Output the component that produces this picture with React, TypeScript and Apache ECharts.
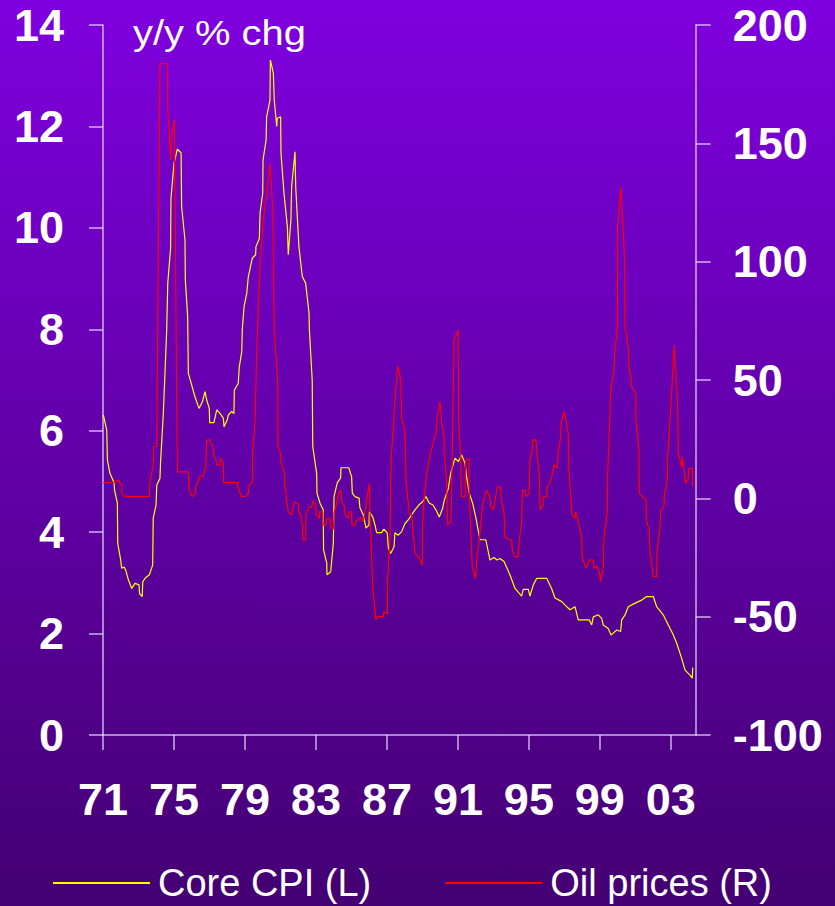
import React, { useEffect, useRef } from "react";
import * as echarts from "echarts";

// Core CPI, y/y % change (left axis): [decimal year, value]
const cpiPoints: [number, number][] = [
  [1971.02, 6.31], [1971.21, 6.01], [1971.25, 5.42], [1971.39, 5.16], [1971.62, 4.98], [1971.65, 4.83],
  [1971.81, 4.57], [1971.83, 3.78], [1972.0, 3.45], [1972.05, 3.29], [1972.2, 3.31], [1972.28, 3.25],
  [1972.43, 3.06], [1972.62, 2.89], [1972.8, 2.99], [1973.03, 2.96], [1973.06, 2.79], [1973.21, 2.73],
  [1973.24, 3.02], [1973.37, 3.09], [1973.61, 3.16], [1973.8, 3.35], [1973.83, 4.27], [1973.99, 4.54],
  [1974.03, 4.93], [1974.21, 5.06], [1974.24, 5.36], [1974.4, 6.34], [1974.59, 7.99], [1974.65, 8.91],
  [1974.81, 9.6], [1974.83, 10.58], [1975.0, 11.27], [1975.19, 11.55], [1975.4, 11.48], [1975.43, 10.42],
  [1975.62, 9.76], [1975.64, 8.97], [1975.77, 8.25], [1975.81, 7.13], [1976.0, 6.9], [1976.18, 6.67],
  [1976.41, 6.44], [1976.6, 6.57], [1976.75, 6.77], [1976.84, 6.61], [1976.99, 6.44], [1977.01, 6.16],
  [1977.25, 6.16], [1977.41, 6.41], [1977.59, 6.34], [1977.78, 6.25], [1977.82, 6.08], [1978.0, 6.21],
  [1978.06, 6.31], [1978.25, 6.38], [1978.38, 6.34], [1978.4, 6.8], [1978.62, 6.93], [1978.68, 7.26],
  [1978.82, 7.56], [1978.85, 8.0], [1978.95, 8.45], [1979.1, 8.71], [1979.19, 9.04], [1979.41, 9.4],
  [1979.6, 9.47], [1979.62, 9.63], [1979.81, 9.79], [1979.85, 10.29], [1980.0, 10.68], [1980.02, 11.34],
  [1980.19, 11.73], [1980.22, 12.19], [1980.41, 12.52], [1980.43, 13.31], [1980.6, 13.05], [1980.65, 12.52],
  [1980.79, 12.0], [1980.82, 12.16], [1981.01, 12.19], [1981.03, 11.47], [1981.2, 10.68], [1981.39, 10.02],
  [1981.44, 9.47], [1981.59, 10.16], [1981.63, 10.81], [1981.82, 11.5], [1981.86, 10.81], [1982.04, 9.63],
  [1982.23, 9.04], [1982.42, 8.91], [1982.61, 8.32], [1982.63, 7.99], [1982.79, 7.0], [1982.82, 5.69],
  [1983.04, 5.16], [1983.06, 4.77], [1983.23, 4.57], [1983.41, 4.44], [1983.43, 3.65], [1983.61, 3.39],
  [1983.62, 3.16], [1983.83, 3.22], [1983.98, 3.78], [1984.02, 4.7], [1984.2, 4.97], [1984.39, 5.07],
  [1984.41, 5.27], [1984.85, 5.27], [1985.01, 5.09], [1985.05, 4.77], [1985.2, 4.7], [1985.43, 4.67],
  [1985.48, 4.48], [1985.67, 4.34], [1985.82, 4.08], [1985.99, 4.14], [1986.01, 4.4], [1986.2, 4.3],
  [1986.33, 4.14], [1986.42, 3.99], [1986.7, 3.99], [1986.83, 4.06], [1987.02, 3.98], [1987.08, 3.68],
  [1987.21, 3.58], [1987.4, 3.71], [1987.45, 3.99], [1987.64, 3.94], [1987.83, 4.01], [1988.02, 4.17],
  [1988.2, 4.24], [1988.39, 4.34], [1988.58, 4.44], [1988.81, 4.54], [1989.01, 4.6], [1989.2, 4.7],
  [1989.39, 4.57], [1989.58, 4.54], [1989.76, 4.44], [1989.95, 4.3], [1990.14, 4.47], [1990.23, 4.63],
  [1990.46, 4.86], [1990.59, 5.16], [1990.78, 5.39], [1990.84, 5.46], [1991.02, 5.39], [1991.21, 5.52],
  [1991.4, 5.36], [1991.49, 5.09], [1991.64, 4.77], [1991.83, 4.57], [1992.02, 4.27], [1992.24, 3.85],
  [1992.57, 3.85], [1992.81, 3.45], [1993.03, 3.5], [1993.2, 3.45], [1993.37, 3.48], [1993.6, 3.42],
  [1993.93, 3.16], [1994.22, 2.89], [1994.59, 2.74], [1994.68, 2.87], [1994.97, 2.87], [1995.06, 2.74],
  [1995.25, 2.96], [1995.44, 3.09], [1996.0, 3.09], [1996.28, 2.89], [1996.47, 2.7], [1996.85, 2.63],
  [1997.13, 2.53], [1997.32, 2.47], [1997.6, 2.53], [1997.78, 2.27], [1998.4, 2.27], [1998.54, 2.17],
  [1998.63, 2.33], [1998.91, 2.37], [1999.1, 2.3], [1999.19, 2.17], [1999.47, 2.1], [1999.63, 1.97],
  [1999.95, 2.07], [2000.17, 2.04], [2000.23, 2.27], [2000.42, 2.37], [2000.6, 2.53], [2000.88, 2.58],
  [2001.17, 2.63], [2001.36, 2.66], [2001.64, 2.73], [2002.01, 2.73], [2002.2, 2.53], [2002.57, 2.37],
  [2002.77, 2.23], [2003.14, 1.97], [2003.33, 1.81], [2003.61, 1.51], [2003.8, 1.28], [2004.08, 1.18],
  [2004.21, 1.12], [2004.23, 1.33],
];

// Oil prices, y/y % change (right axis): [decimal year, value]
const oilPoints: [number, number][] = [
  [1971.02, 6.6], [1971.58, 6.6], [1971.86, 7.7], [1972.05, 5.6], [1972.06, 2.1], [1972.24, 0.7],
  [1973.61, 0.7], [1973.65, 7], [1973.83, 14], [1973.85, 21.8], [1974.03, 21.8], [1974.07, 62.7],
  [1974.21, 183.7], [1974.62, 183.7], [1974.64, 166.9], [1974.81, 143], [1974.87, 152.8], [1975.02, 159.8],
  [1975.19, 11.2], [1975.81, 11.2], [1975.86, 3.5], [1976.03, 0.7], [1976.2, 2.1], [1976.24, 5.6],
  [1976.41, 7.7], [1976.43, 9.4], [1976.65, 9.4], [1976.8, 14.1], [1976.84, 24.6], [1977.03, 24.6],
  [1977.22, 21.1], [1977.25, 17.9], [1977.41, 15.5], [1977.42, 14.1], [1977.59, 14.1], [1977.63, 16.9],
  [1977.78, 14.8], [1977.8, 6.6], [1978.57, 6.6], [1978.62, 4.2], [1978.82, 0.7], [1979.0, 0.7],
  [1979.19, 2.1], [1979.23, 5.6], [1979.41, 6.6], [1979.43, 19.7], [1979.57, 31.7], [1979.66, 62.7],
  [1979.85, 98.6], [1980.03, 117.6], [1980.18, 126], [1980.41, 141.5], [1980.56, 123.2], [1980.65, 71],
  [1980.84, 50], [1980.86, 21.8], [1981.01, 19], [1981.03, 15.5], [1981.22, 10.6], [1981.23, 6.3],
  [1981.44, -5.7], [1981.63, -7], [1981.78, -1.4], [1982.01, -2.4], [1982.02, -5.7], [1982.13, -7],
  [1982.25, -12], [1982.27, -17.6], [1982.42, -17.6], [1982.44, -6.3], [1982.63, -3.8], [1982.76, -3.8],
  [1982.82, -1], [1983.0, -3.3], [1983.02, -7], [1983.19, -8.5], [1983.2, -5.7], [1983.38, -5.7],
  [1983.41, -11.3], [1983.57, -11.3], [1983.61, -8.5], [1983.79, -8.5], [1983.83, -12], [1983.98, -13.1],
  [1984.02, -6.3], [1984.17, -2.1], [1984.26, 2.1], [1984.41, 3.5], [1984.45, -1.4], [1984.6, -3.5],
  [1984.64, -7], [1984.82, -8.5], [1984.88, -5.7], [1985.01, -5.7], [1985.03, -11.3], [1985.2, -11.3],
  [1985.24, -9.9], [1985.44, -8.5], [1985.61, -8.5], [1985.67, -9.9], [1985.82, -2.8], [1986.01, 6.3],
  [1986.05, -7], [1986.2, -37.3], [1986.38, -51.4], [1986.46, -50], [1986.79, -50], [1986.83, -47.9],
  [1987.02, -48.9], [1987.04, -34.5], [1987.17, -17.6], [1987.23, 14.8], [1987.45, 41.5], [1987.61, 55.9],
  [1987.78, 50], [1987.83, 33.8], [1988.02, 28.9], [1988.07, 7.7], [1988.26, -6.3], [1988.4, -7],
  [1988.58, -23.2], [1988.81, -25.3], [1988.99, -28.2], [1989.02, -7.8], [1989.24, 11.2], [1989.43, 18.3],
  [1989.58, 22.5], [1989.76, 27.5], [1989.84, 34.5], [1989.99, 40.8], [1990.09, 31.7], [1990.22, 26],
  [1990.23, 19], [1990.37, 7], [1990.42, -11.3], [1990.61, -9.9], [1990.68, 17.6], [1990.78, 66.9],
  [1991.02, 71.1], [1991.04, 32.4], [1991.17, 16.2], [1991.19, 0.7], [1991.4, 0.7], [1991.44, 16.2],
  [1991.62, 16.9], [1991.64, 2.1], [1991.81, -28.9], [1992.0, -33.8], [1992.09, -23.2], [1992.2, -17.6],
  [1992.4, -2.1], [1992.62, 3.5], [1992.81, 0.7], [1992.85, -3.5], [1993.0, -4.9], [1993.22, 4.9],
  [1993.41, 4.9], [1993.43, 0], [1993.6, -6.3], [1993.65, -16.2], [1993.84, -17.3], [1994.03, -17.6],
  [1994.06, -21.8], [1994.22, -24.7], [1994.4, -24.7], [1994.44, -19], [1994.59, -9.9], [1994.63, 3.5],
  [1994.78, 3.5], [1994.82, 0.7], [1995.01, 2.1], [1995.06, 16.2], [1995.19, 21.1], [1995.21, 24.6],
  [1995.4, 24.6], [1995.44, 19.7], [1995.59, 9.8], [1995.63, -4.9], [1995.78, -2.8], [1995.81, 0.7],
  [1996.0, 0.7], [1996.04, 4.9], [1996.19, 6.3], [1996.28, 9.1], [1996.41, 14.1], [1996.6, 12.7],
  [1996.64, 19], [1996.79, 26], [1996.81, 32.4], [1996.99, 36.6], [1997.22, 27.5], [1997.24, 14.8],
  [1997.41, -6.3], [1997.6, -8.5], [1997.64, -5.7], [1997.81, -10.6], [1997.97, -16.2], [1998.01, -25.3],
  [1998.22, -29.6], [1998.4, -26.1], [1998.63, -26.1], [1998.67, -29.6], [1998.85, -28.6], [1999.01, -32.4],
  [1999.02, -35.2], [1999.19, -29.6], [1999.23, -16.9], [1999.42, -5.7], [1999.44, 10.6], [1999.61, 44.4],
  [1999.8, 55.6], [1999.85, 62.7], [1999.98, 71.1], [2000.0, 114.7], [2000.19, 131.4], [2000.38, 103.5],
  [2000.42, 72.5], [2000.6, 64], [2000.63, 57], [2000.79, 47.1], [2001.02, 44.4], [2001.03, 33.1],
  [2001.2, 20.4], [2001.22, 2.1], [2001.6, -0.7], [2001.62, -9.2], [2001.78, -13.4], [2001.82, -21.8],
  [2002.01, -33.1], [2002.2, -33.1], [2002.22, -21.8], [2002.39, -12.7], [2002.43, -4.9], [2002.61, -3.5],
  [2002.63, 0.7], [2002.8, 7.7], [2002.82, 17.6], [2003.01, 40.1], [2003.19, 64.8], [2003.38, 40.1],
  [2003.42, 19], [2003.61, 13.4], [2003.64, 17.6], [2003.84, 6.3], [2003.98, 8.4], [2004.02, 12.7],
  [2004.21, 12.7], [2004.23, 4.9],
];

const xLabelYears = [1971, 1975, 1979, 1983, 1987, 1991, 1995, 1999, 2003];
const xRange = [1971, 2004.4];
const leftRange = [0, 14, 2];
const rightRange = [-100, 200, 50];
const seriesNames = ["Core CPI (L)", "Oil prices (R)"];
const titleText = "y/y % chg";

const FONT = "'Liberation Sans', Arial, sans-serif";
const AXIS_COLOR = "rgba(232, 222, 255, 0.8)";

export default function App() {
  const ref = useRef<HTMLDivElement>(null);

  useEffect(() => {
    document.body.style.margin = "0";
    const chart = echarts.init(ref.current!, null, { renderer: "svg" });
    const axisLabelStyle = {
      color: "#ffffff",
      fontFamily: FONT,
      fontWeight: "bold" as const,
      fontSize: 45,
    };
    chart.setOption({
      animation: false,
      backgroundColor: new echarts.graphic.LinearGradient(0, 0, 0, 1, [
        { offset: 0, color: "#7f00df" },
        { offset: 1, color: "#440072" },
      ]),
      grid: { left: 103, top: 25, width: 592.7, height: 710, containLabel: false },
      graphic: [
        {
          type: "text",
          x: 133,
          y: 33,
          scaleX: 1.14,
          style: {
            text: titleText,
            fill: "#ffffff",
            font: `35px ${FONT}`,
            verticalAlign: "middle",
            align: "left",
          },
        },
      ],
      legend: {
        data: seriesNames,
        left: 53,
        top: 864,
        icon: "rect",
        itemWidth: 97,
        itemHeight: 2,
        itemGap: 74,
        padding: 0,
        textStyle: { color: "#ffffff", fontFamily: FONT, fontSize: 38, padding: [0, 0, 0, 3] },
      },
      xAxis: {
        type: "value",
        min: xRange[0],
        max: xRange[1],
        axisLine: { show: true, onZero: false, lineStyle: { color: AXIS_COLOR, width: 1.5 } },
        axisTick: { show: true, length: 15, customValues: xLabelYears, lineStyle: { color: AXIS_COLOR, width: 1.5 } },
        axisLabel: {
          ...axisLabelStyle,
          margin: 42,
          customValues: xLabelYears,
          formatter: (v: number) => String(Math.round(v)).slice(2),
        },
        splitLine: { show: false },
      },
      yAxis: [
        {
          type: "value",
          position: "left",
          min: leftRange[0],
          max: leftRange[1],
          interval: leftRange[2],
          axisLine: { show: true, lineStyle: { color: AXIS_COLOR, width: 1.5 } },
          axisTick: { show: true, length: 14, lineStyle: { color: AXIS_COLOR, width: 1.5 } },
          axisLabel: { ...axisLabelStyle, margin: 39 },
          splitLine: { show: false },
        },
        {
          type: "value",
          position: "right",
          min: rightRange[0],
          max: rightRange[1],
          interval: rightRange[2],
          axisLine: { show: true, lineStyle: { color: AXIS_COLOR, width: 1.5 } },
          axisTick: { show: true, length: 15, lineStyle: { color: AXIS_COLOR, width: 1.5 } },
          axisLabel: { ...axisLabelStyle, margin: 37 },
          splitLine: { show: false },
        },
      ],
      series: [
        {
          name: seriesNames[0],
          type: "line",
          yAxisIndex: 0,
          data: cpiPoints,
          symbol: "none",
          silent: true,
          color: "#ffff00",
          lineStyle: { color: "#ffff00", width: 1.2 },
        },
        {
          name: seriesNames[1],
          type: "line",
          yAxisIndex: 1,
          data: oilPoints,
          symbol: "none",
          silent: true,
          color: "#ff0000",
          lineStyle: { color: "#ff0000", width: 1.2 },
        },
      ],
    });
    return () => chart.dispose();
  }, []);

  return <div ref={ref} style={{ width: 835, height: 906 }} />;
}
